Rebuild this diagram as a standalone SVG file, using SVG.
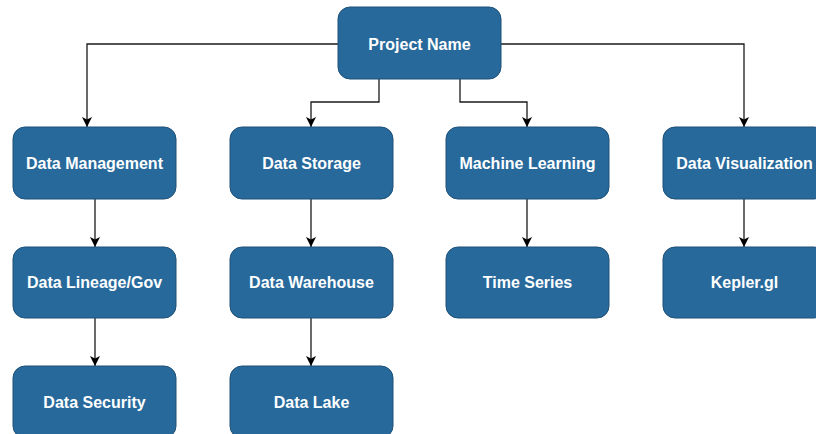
<svg xmlns="http://www.w3.org/2000/svg" width="816" height="434" viewBox="0 0 816 434">
  <style>
    .box { fill: #27699b; stroke: #1f5077; stroke-width: 1; }
    .label { fill: #ffffff; font-family: "Liberation Sans", Arial, sans-serif; font-weight: bold; font-size: 16px; text-anchor: middle; }
    .wire { fill: none; stroke: #1a1a1a; stroke-width: 1.3; }
  </style>
  <defs>
    <marker id="arrow" viewBox="0 0 10 10" refX="10" refY="5" markerWidth="10" markerHeight="10" markerUnits="userSpaceOnUse" orient="auto">
      <path d="M0,0 L10,5 L0,10 L2.5,5 Z" fill="#000000"/>
    </marker>
  </defs>
  <rect width="816" height="434" fill="#ffffff"/>

  <g id="connectors">
    <path class="wire" d="M338,44 H87 V127" marker-end="url(#arrow)"/>
    <path class="wire" d="M379,79 V102 H311 V127" marker-end="url(#arrow)"/>
    <path class="wire" d="M460,79 V102 H527 V127" marker-end="url(#arrow)"/>
    <path class="wire" d="M501,44 H744 V127" marker-end="url(#arrow)"/>
    <path class="wire" d="M95,199 V247" marker-end="url(#arrow)"/>
    <path class="wire" d="M95,318 V366" marker-end="url(#arrow)"/>
    <path class="wire" d="M311,199 V247" marker-end="url(#arrow)"/>
    <path class="wire" d="M311,318 V366" marker-end="url(#arrow)"/>
    <path class="wire" d="M527,199 V247" marker-end="url(#arrow)"/>
    <path class="wire" d="M744,199 V247" marker-end="url(#arrow)"/>
  </g>

  <g id="project-name">
    <rect class="box" x="338" y="7" width="163" height="72" rx="12"/>
    <text class="label" x="419.5" y="49.5">Project Name</text>
  </g>

  <g id="data-management">
    <rect class="box" x="13" y="127" width="163" height="72" rx="12"/>
    <text class="label" x="94.5" y="168.8">Data Management</text>
  </g>
  <g id="data-lineage">
    <rect class="box" x="13" y="247" width="163" height="71" rx="12"/>
    <text class="label" x="94.5" y="288.3">Data Lineage/Gov</text>
  </g>
  <g id="data-security">
    <rect class="box" x="13" y="366" width="163" height="72" rx="12"/>
    <text class="label" x="94.5" y="407.8">Data Security</text>
  </g>

  <g id="data-storage">
    <rect class="box" x="230" y="127" width="163" height="72" rx="12"/>
    <text class="label" x="311.5" y="168.8">Data Storage</text>
  </g>
  <g id="data-warehouse">
    <rect class="box" x="230" y="247" width="163" height="71" rx="12"/>
    <text class="label" x="311.5" y="288.3">Data Warehouse</text>
  </g>
  <g id="data-lake">
    <rect class="box" x="230" y="366" width="163" height="72" rx="12"/>
    <text class="label" x="311.5" y="407.8">Data Lake</text>
  </g>

  <g id="machine-learning">
    <rect class="box" x="446" y="127" width="163" height="72" rx="12"/>
    <text class="label" x="527.5" y="168.8">Machine Learning</text>
  </g>
  <g id="time-series">
    <rect class="box" x="446" y="247" width="163" height="71" rx="12"/>
    <text class="label" x="527.5" y="288.3">Time Series</text>
  </g>

  <g id="data-visualization">
    <rect class="box" x="663" y="127" width="163" height="72" rx="12"/>
    <text class="label" x="744.5" y="168.8">Data Visualization</text>
  </g>
  <g id="kepler-gl">
    <rect class="box" x="663" y="247" width="163" height="71" rx="12"/>
    <text class="label" x="744.5" y="288.3">Kepler.gl</text>
  </g>
</svg>
